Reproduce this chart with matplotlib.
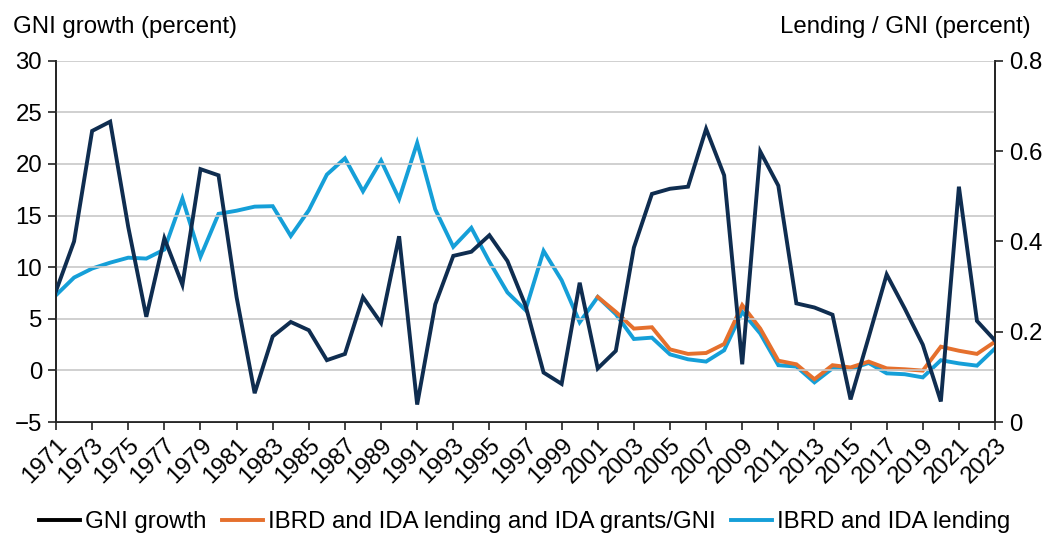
import numpy as np
import matplotlib.pyplot as plt
from matplotlib.lines import Line2D

# data
years = np.arange(1971, 2024)

gni_growth = [7.7, 12.5, 23.2, 24.1, 13.9, 5.2, 12.8, 8.3, 19.5, 18.9,
              7.1, -2.2, 3.3, 4.7, 3.9, 1.0, 1.6, 7.1, 4.6, 13.0,
              -3.3, 6.4, 11.1, 11.5, 13.1, 10.6, 6.3, -0.2, -1.3, 8.5,
              0.2, 1.9, 11.9, 17.1, 17.6, 17.8, 23.4, 18.9, 0.6, 21.2,
              17.9, 6.5, 6.1, 5.4, -2.8, 3.2, 9.3, 6.0, 2.5, -3.0,
              17.8, 4.8, 2.9]

lending = [0.281, 0.320, 0.340, 0.353, 0.364, 0.362, 0.382, 0.495, 0.366, 0.461,
           0.468, 0.477, 0.478, 0.412, 0.469, 0.548, 0.584, 0.511, 0.579, 0.494,
           0.618, 0.471, 0.388, 0.430, 0.355, 0.287, 0.248, 0.379, 0.314, 0.221,
           0.277, 0.239, 0.184, 0.187, 0.150, 0.139, 0.134, 0.159, 0.244, 0.196,
           0.126, 0.123, 0.088, 0.119, 0.117, 0.131, 0.108, 0.106, 0.099, 0.137,
           0.130, 0.125, 0.163]

lending_grants = [np.nan] * 30 + [
           0.277, 0.244, 0.207, 0.210, 0.161, 0.151, 0.153, 0.173, 0.259, 0.207,
           0.136, 0.128, 0.095, 0.126, 0.121, 0.134, 0.119, 0.117, 0.114, 0.167,
           0.158, 0.151, 0.178]

labels = ['GNI growth', 'IBRD and IDA lending and IDA grants/GNI', 'IBRD and IDA lending']

navy = '#0f2d50'
orange = '#e5702d'
blue = '#159fd8'
fs = 17.3
lw = 2.8

plt.rcParams['font.family'] = ['Liberation Sans', 'DejaVu Sans']

fig = plt.figure(figsize=(10.43, 5.35), dpi=100)
ax1 = fig.add_axes([0.0537, 0.211, 0.9003, 0.6755])
ax2 = ax1.twinx()

# right axis lines
ax2.plot(years, lending, color=blue, lw=lw, solid_joinstyle='miter', zorder=2)
ax2.plot(years, lending_grants, color=orange, lw=lw, solid_joinstyle='miter', zorder=3)

# left axis line, drawn above the others
ax1.set_zorder(ax2.get_zorder() + 1)
ax1.patch.set_visible(False)
ax1.plot(years, gni_growth, color=navy, lw=lw, solid_joinstyle='miter', zorder=3)

# limits and ticks
ax1.set_xlim(1971, 2023)
ax1.set_ylim(-5, 30)
ax2.set_ylim(0, 0.8)
ax1.set_yticks(np.arange(-5, 31, 5))
ax1.set_yticklabels(['\u22125'] + [str(v) for v in range(0, 31, 5)])
ax2.set_yticks([0, 0.2, 0.4, 0.6, 0.8])
ax2.set_yticklabels(['0', '0.2', '0.4', '0.6', '0.8'])
ax1.set_xticks(years[::2])
ax1.set_xticklabels([str(y) for y in years[::2]], rotation=45, ha='right',
                    rotation_mode='anchor')

ax1.grid(axis='y', color='#c8c8c8', lw=1.2)
ax1.set_axisbelow(True)

for ax in (ax1, ax2):
    ax.spines['top'].set_visible(False)
    for s in ('left', 'right', 'bottom'):
        ax.spines[s].set_linewidth(1.2)
        ax.spines[s].set_color('#222222')
    ax.tick_params(labelsize=fs, width=1.2, length=6, color='#222222')
ax1.tick_params(axis='x', pad=3)
ax1.tick_params(axis='y', pad=4)
ax2.tick_params(axis='y', pad=4)

# axis titles
fig.text(13 / 1043, 1 - 33 / 535, 'GNI growth (percent)', fontsize=fs, ha='left', va='baseline')
fig.text(1031 / 1043, 1 - 33 / 535, 'Lending / GNI (percent)', fontsize=fs, ha='right', va='baseline')

# legend
handles = [Line2D([], [], color='black', lw=lw),
           Line2D([], [], color=orange, lw=lw),
           Line2D([], [], color=blue, lw=lw)]
fig.legend(handles, labels, loc='center', bbox_to_anchor=(0.503, 0.024), ncol=3,
           frameon=False, fontsize=fs, handlelength=1.7, handletextpad=0.2,
           columnspacing=0.65, borderaxespad=0)

fig.savefig('out.png', dpi=100)
